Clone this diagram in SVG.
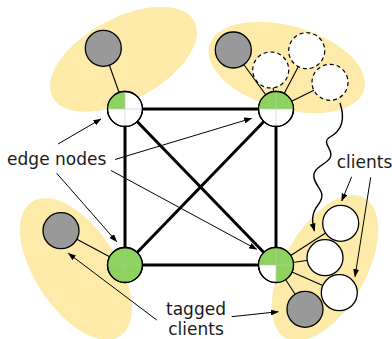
<svg xmlns="http://www.w3.org/2000/svg" width="392" height="339" viewBox="0 0 392 339">
<defs>
<style>
.zone{fill:#feeaa9;stroke:none}
.edge{stroke:#000;stroke-width:3;fill:none}
.link{stroke:#000;stroke-width:1.1;fill:none}
.ann{stroke:#000;stroke-width:1;fill:none;marker-end:url(#ah)}
.wave{stroke-width:1.4}
.enode{fill:#fff;stroke:#000;stroke-width:1.3}
.green{fill:#8ed35f}
.cross{stroke:#c8c8c8;stroke-width:0.6}
.ring{fill:none;stroke:#000;stroke-width:1.3}
.tag{fill:#999;stroke:#000;stroke-width:1.3}
.client{fill:#fff;stroke:#000;stroke-width:1.3}
.dash{fill:#fff;stroke:#000;stroke-width:1.2;stroke-dasharray:4 3}
.lbl{font-family:"DejaVu Sans",sans-serif;font-size:17px;fill:#1a1a1a}
</style>
<marker id="ah" markerWidth="8" markerHeight="6" refX="7.5" refY="3" orient="auto" markerUnits="userSpaceOnUse">
<path d="M0,0 L8,3 L0,6 Z" fill="#000"/>
</marker>
</defs>
<g id="zones">
<ellipse class="zone" cx="123.5" cy="59.2" rx="80.4" ry="41.1" transform="rotate(-28.2 123.5 59.2)"/>
<ellipse class="zone" cx="286.7" cy="67.5" rx="80.5" ry="41.7" transform="rotate(16 286.7 67.5)"/>
<ellipse class="zone" cx="76" cy="269" rx="80.4" ry="41.1" transform="rotate(56.6 76 269)"/>
<ellipse class="zone" cx="325" cy="268" rx="80.4" ry="41.1" transform="rotate(-60.6 325 268)"/>
</g>
<g id="connectors">
<line class="edge" x1="125" y1="109" x2="276" y2="109"/>
<line class="edge" x1="125" y1="265" x2="276" y2="265"/>
<line class="edge" x1="125" y1="109" x2="125" y2="265"/>
<line class="edge" x1="276" y1="109" x2="276" y2="265"/>
<line class="edge" x1="125" y1="109" x2="276" y2="265"/>
<line class="edge" x1="276" y1="109" x2="125" y2="265"/>
<line class="link" x1="125" y1="109" x2="103.3" y2="48.3"/>
<line class="link" x1="276" y1="109" x2="233.3" y2="50"/>
<line class="link" x1="276" y1="109" x2="270.7" y2="70"/>
<line class="link" x1="276" y1="109" x2="306.7" y2="50.7"/>
<line class="link" x1="276" y1="109" x2="330" y2="82.3"/>
<line class="link" x1="125" y1="265" x2="61" y2="230.7"/>
<line class="link" x1="276" y1="265" x2="340.7" y2="223.3"/>
<line class="link" x1="276" y1="265" x2="325" y2="257.7"/>
<line class="link" x1="276" y1="265" x2="339.3" y2="292.7"/>
<line class="link" x1="276" y1="265" x2="305" y2="309.3"/>
<path class="ann wave" d="M340,103 C345,118 343,130 330,137 C320,143 335,150 330,158 C326,165 312,167 314,178 C316,188 328,192 318,205 C311,214 312,222 314.5,231"/>
</g>
<g id="node-tl">
<circle class="enode" cx="125" cy="109" r="17.5"/>
<path class="green" d="M125,109 L107.5,109 A17.5,17.5 0 0 1 125,91.5 Z"/>
<path class="cross" d="M107.5,109 H142.5 M125,91.5 V126.5"/>
<circle class="ring" cx="125" cy="109" r="17.5"/>
</g>
<g id="node-tr">
<circle class="enode" cx="276" cy="109" r="17.5"/>
<path class="green" d="M258.5,109 A17.5,17.5 0 0 1 293.5,109 Z"/>
<path class="cross" d="M258.5,109 H293.5 M276,91.5 V126.5"/>
<circle class="ring" cx="276" cy="109" r="17.5"/>
</g>
<g id="node-bl">
<circle class="enode green" cx="125" cy="265" r="17.5"/>
<path class="cross" d="M107.5,265 H142.5 M125,247.5 V282.5" opacity="0.5"/>
<circle class="ring" cx="125" cy="265" r="17.5"/>
</g>
<g id="node-br">
<circle class="enode" cx="276" cy="265" r="17.5"/>
<path class="green" d="M276,265 L276,282.5 A17.5,17.5 0 1 0 258.5,265 Z"/>
<path class="cross" d="M258.5,265 H293.5 M276,247.5 V282.5"/>
<circle class="ring" cx="276" cy="265" r="17.5"/>
</g>
<g id="tagged-tl"><circle class="tag" cx="103.3" cy="48.3" r="18"/></g>
<g id="tagged-tr"><circle class="tag" cx="233.3" cy="50" r="18"/></g>
<g id="client-tr-1"><circle class="dash" cx="270.7" cy="70" r="18"/></g>
<g id="client-tr-2"><circle class="dash" cx="306.7" cy="50.7" r="18"/></g>
<g id="client-tr-3"><circle class="dash" cx="330" cy="82.3" r="18"/></g>
<g id="tagged-bl"><circle class="tag" cx="61" cy="230.7" r="18"/></g>
<g id="client-br-1"><circle class="client" cx="340.7" cy="223.3" r="18"/></g>
<g id="client-br-2"><circle class="client" cx="325" cy="257.7" r="18"/></g>
<g id="client-br-3"><circle class="client" cx="339.3" cy="292.7" r="18"/></g>
<g id="tagged-br"><circle class="tag" cx="305" cy="309.3" r="18"/></g>
<g id="labels">
<text class="lbl" x="56.7" y="165" text-anchor="middle">edge nodes</text>
<text class="lbl" x="364.5" y="168" text-anchor="middle">clients</text>
<text class="lbl" x="196" y="314.5" text-anchor="middle">tagged</text>
<text class="lbl" x="196" y="335" text-anchor="middle">clients</text>
</g>
<g id="annotations">
<line class="ann" x1="58" y1="144" x2="101" y2="119"/>
<line class="ann" x1="115" y1="159.5" x2="251.7" y2="118.3"/>
<line class="ann" x1="111" y1="170.5" x2="256.7" y2="249.3"/>
<line class="ann" x1="56.7" y1="173.3" x2="116.7" y2="241.7"/>
<line class="ann" x1="351.7" y1="176.7" x2="341.7" y2="201"/>
<line class="ann" x1="370.7" y1="177.3" x2="355" y2="276.7"/>
<line class="ann" x1="156.7" y1="320" x2="68.3" y2="253.3"/>
<line class="ann" x1="231.7" y1="316.7" x2="278.3" y2="311.7"/>
</g>
</svg>
